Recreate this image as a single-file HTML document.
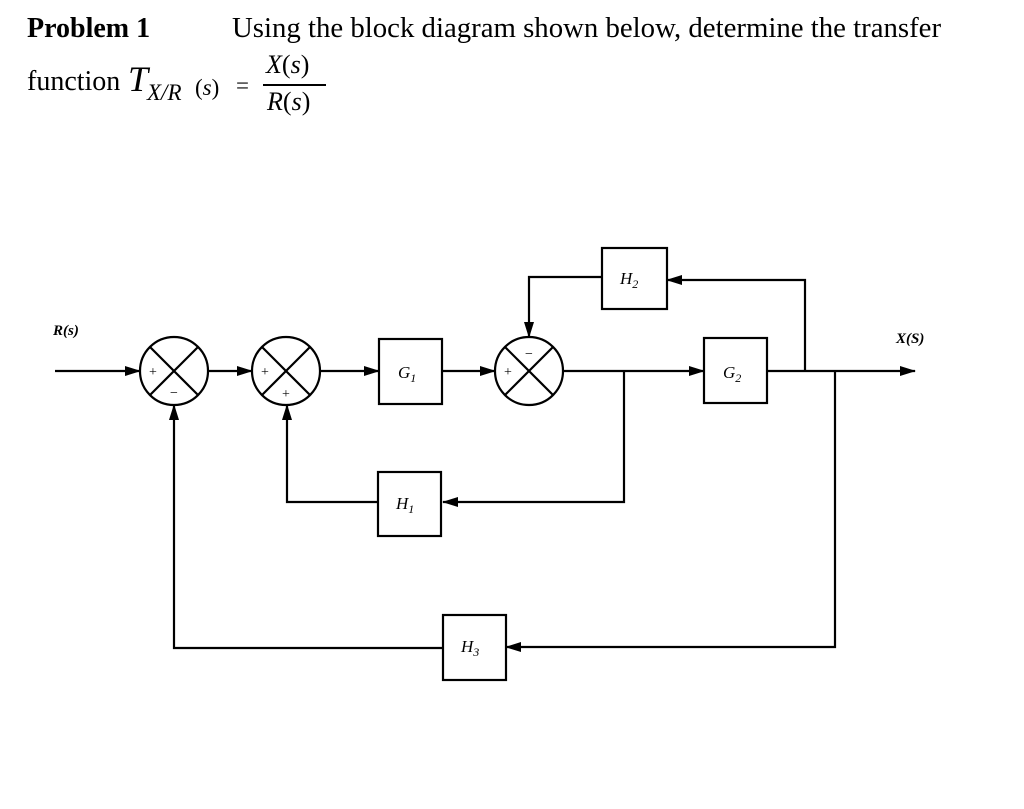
<!DOCTYPE html>
<html><head><meta charset="utf-8"><style>
body{margin:0;background:#fff;}
.t{position:absolute;font-family:"Liberation Serif",serif;color:#000;white-space:nowrap;}
</style></head><body>
<div style="position:relative;width:1024px;height:809px;overflow:hidden;">
<div class="t" style="left:27px;top:13px;font-size:28px;font-weight:bold;">Problem 1</div>
<div class="t" style="left:232px;top:12px;font-size:28.8px;">Using the block diagram shown below, determine the transfer</div>
<div class="t" style="left:27px;top:66px;font-size:28px;">function</div>
<div class="t" style="left:128px;top:58px;font-size:36px;font-style:italic;">T</div>
<div class="t" style="left:147px;top:80px;font-size:23px;font-style:italic;">X/R</div>
<div class="t" style="left:195px;top:75px;font-size:23px;">(<i>s</i>)</div>
<div class="t" style="left:236px;top:73px;font-size:23px;">=</div>
<div class="t" style="left:266px;top:50px;font-size:26px;"><i>X</i>(<i>s</i>)</div>
<div style="position:absolute;left:263px;top:84px;width:63px;height:1.5px;background:#000;"></div>
<div class="t" style="left:267px;top:87px;font-size:26px;"><i>R</i>(<i>s</i>)</div>
<svg width="1024" height="809" style="position:absolute;left:0;top:0" font-family="Liberation Serif,serif">
<defs><marker id="a" markerWidth="16" markerHeight="10" refX="15" refY="5" orient="auto" markerUnits="userSpaceOnUse"><path d="M0,0 L16,5 L0,10 z" fill="#000"/></marker></defs>
<g stroke="#000" stroke-width="2.2" fill="none">
<line x1="55" y1="371" x2="140" y2="371" marker-end="url(#a)"/>
<line x1="208" y1="371" x2="252" y2="371" marker-end="url(#a)"/>
<line x1="320" y1="371" x2="379" y2="371" marker-end="url(#a)"/>
<line x1="442" y1="371" x2="495" y2="371" marker-end="url(#a)"/>
<line x1="563" y1="371" x2="704" y2="371" marker-end="url(#a)"/>
<line x1="767" y1="371" x2="915" y2="371" marker-end="url(#a)"/>
<polyline points="805,371 805,280 667,280" marker-end="url(#a)"/>
<polyline points="602,277 529,277 529,337" marker-end="url(#a)"/>
<polyline points="624,371 624,502 443,502" marker-end="url(#a)"/>
<polyline points="378,502 287,502 287,405" marker-end="url(#a)"/>
<polyline points="835,371 835,647 506,647" marker-end="url(#a)"/>
<polyline points="443,648 174,648 174,405" marker-end="url(#a)"/>
<circle cx="174" cy="371" r="34"/><line x1="150" y1="347" x2="198" y2="395"/><line x1="198" y1="347" x2="150" y2="395"/>
<circle cx="286" cy="371" r="34"/><line x1="262" y1="347" x2="310" y2="395"/><line x1="310" y1="347" x2="262" y2="395"/>
<circle cx="529" cy="371" r="34"/><line x1="505" y1="347" x2="553" y2="395"/><line x1="553" y1="347" x2="505" y2="395"/>
<rect x="379" y="339" width="63" height="65"/>
<rect x="704" y="338" width="63" height="65"/>
<rect x="602" y="248" width="65" height="61"/>
<rect x="378" y="472" width="63" height="64"/>
<rect x="443" y="615" width="63" height="65"/>
</g>
<g font-size="14" fill="#000">
<text x="149" y="376">+</text><text x="170" y="397">−</text>
<text x="261" y="376">+</text><text x="282" y="398">+</text>
<text x="504" y="376">+</text><text x="525" y="358">−</text>
</g>
<g font-size="17" font-style="italic" fill="#000">
<text x="53" y="335" font-weight="bold" font-size="15">R(s)</text>
<text x="896" y="343" font-weight="bold" font-size="15">X(S)</text>
<text x="398" y="378">G<tspan font-size="12" dy="4">1</tspan></text>
<text x="723" y="378">G<tspan font-size="12" dy="4">2</tspan></text>
<text x="620" y="284">H<tspan font-size="12" dy="4">2</tspan></text>
<text x="396" y="509">H<tspan font-size="12" dy="4">1</tspan></text>
<text x="461" y="652">H<tspan font-size="12" dy="4">3</tspan></text>
</g>
</svg>
</div>
</body></html>
